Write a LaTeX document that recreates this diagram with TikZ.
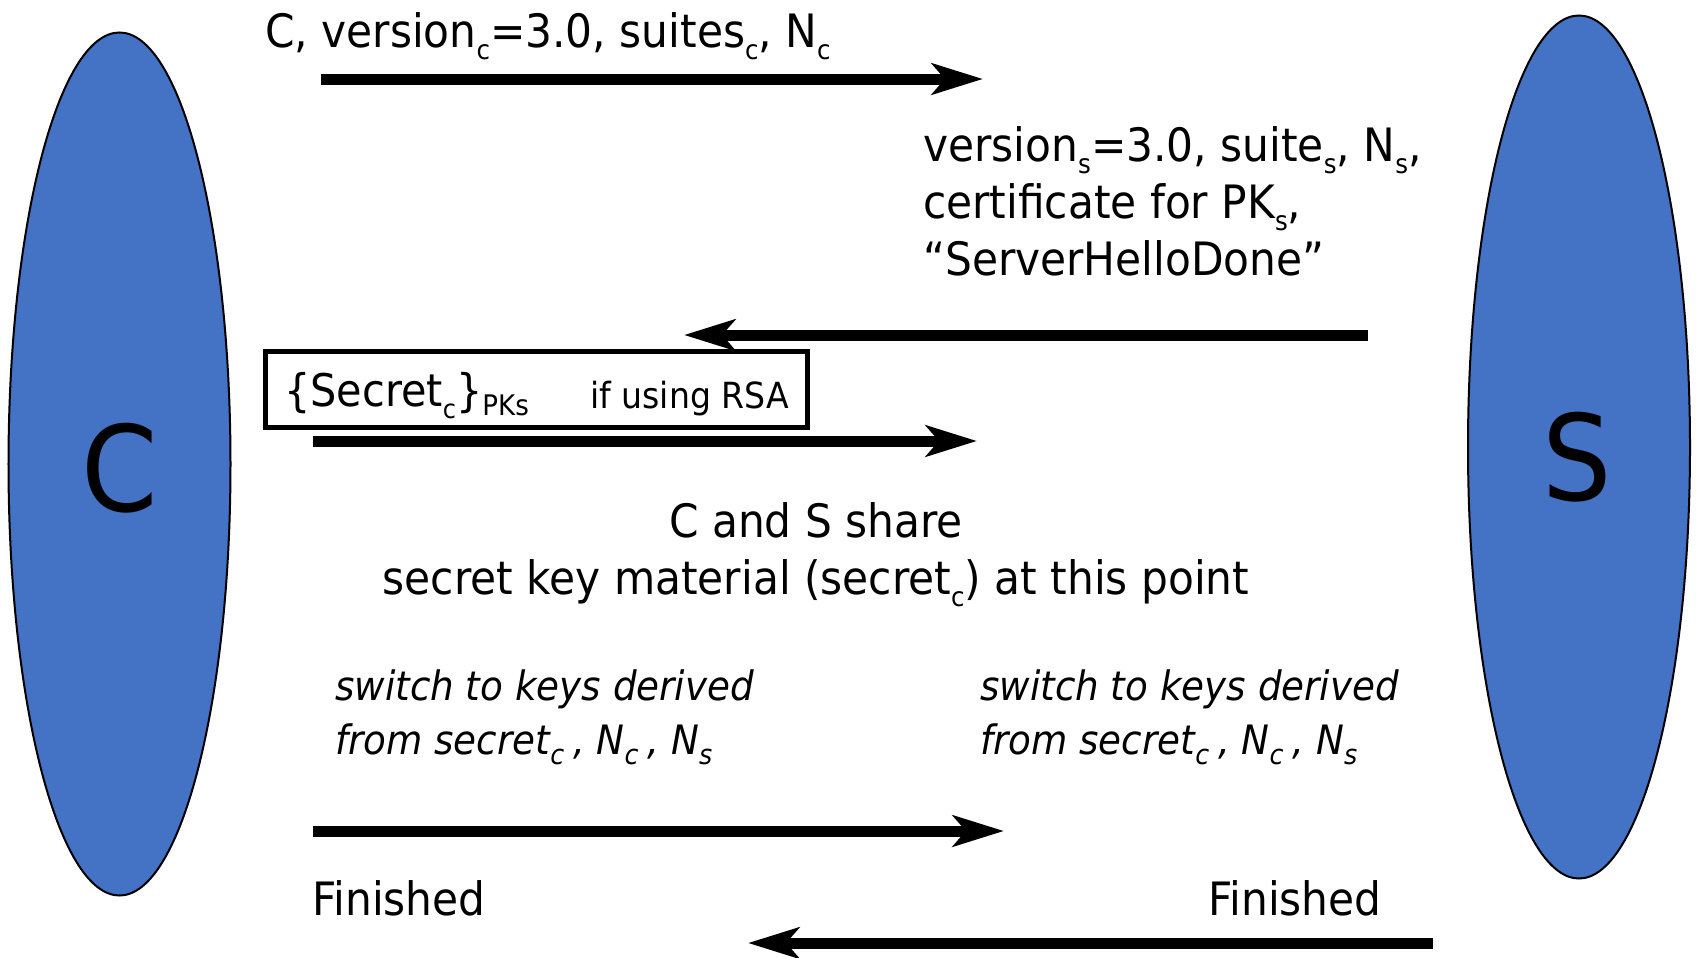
\documentclass[tikz,border=0pt]{standalone}
\usepackage{fontspec}
\usepackage{graphicx}
\setmainfont{DejaVu Sans}[FakeStretch=0.92]
\usetikzlibrary{arrows.meta,shapes.geometric}
\definecolor{partyblue}{HTML}{4472C4}
% lowered, reduced index (subscript) in text
\newcommand\lowidx[1]{\raisebox{-0.28em}{\scalebox{0.58}{#1}}}
% index in the slanted key-switch notes: a bit larger, with room after it
\newcommand\slantidx[1]{\raisebox{-0.26em}{\scalebox{0.68}{#1}}\kern0.22em}

\begin{document}
\begin{tikzpicture}[x=1bp,y=-1bp,
  party/.style={ellipse, draw=black, line width=2bp, fill=partyblue,
    minimum width=222bp, minimum height=863bp, inner sep=0pt},
  bigletter/.style={inner sep=0pt, font=\fontsize{119bp}{119bp}\selectfont},
  msg/.style={line width=11bp, -{Stealth[length=51bp,width=31bp,inset=13bp]}},
  msgtext/.style={anchor=base west, inner sep=0pt, font=\fontsize{46bp}{55bp}\selectfont},
  centertext/.style={anchor=base, inner sep=0pt, font=\fontsize{46bp}{55bp}\selectfont},
  switchtext/.style={anchor=base west, inner sep=0pt, font=\fontsize{40.5bp}{48bp}\selectfont\itshape},
  donetext/.style={anchor=base west, inner sep=0pt, font=\fontsize{46bp}{55bp}\selectfont},
  rsabox/.style={draw=black, line width=5bp, minimum width=542bp, minimum height=76bp, inner sep=0pt}
]
\path[use as bounding box] (0,0) rectangle (1696,957);

% the two parties
\node[party] (C) at (119.5,464) {};
\node[bigletter] (Cname) at (120,468) {C};
\node[party] (S) at (1579,447) {};
\node[bigletter] (Sname) at (1577,457) {S};

% ClientHello
\node[msgtext] (t1) at (265,47) {C, version\lowidx{c}=3.0, suites\lowidx{c}, N\lowidx{c}};
\coordinate (a1s) at (321,79);
\coordinate (a1e) at (983,79);
\draw[msg] (a1s) -- (a1e);

% ServerHello, certificate, ServerHelloDone
\node[msgtext] (t2a) at (923,161) {version\lowidx{s}=3.0, suite\lowidx{s}, N\lowidx{s},};
\node[msgtext] (t2b) at (923,218) {certificate for PK\lowidx{s},};
\node[msgtext] (t2c) at (923,275) {“ServerHelloDone”};
\coordinate (a2s) at (1368,335);
\coordinate (a2e) at (684,335);
\draw[msg] (a2s) -- (a2e);

% ClientKeyExchange
\node[rsabox] (box) at (536,389) {};
\node[anchor=base west, inner sep=0pt, font=\fontsize{45bp}{54bp}\selectfont] (sec) at (284,406)
  {\{Secret\lowidx{c}\}\raisebox{-0.22em}{\scalebox{0.63}{PKs}}};
\node[anchor=base west, inner sep=0pt, font=\fontsize{36bp}{44bp}\selectfont] (rsa) at (590,408) {if using RSA};
\coordinate (a3s) at (313,441);
\coordinate (a3e) at (977,441);
\draw[msg] (a3s) -- (a3e);

% shared secret
\node[centertext] (share1) at (816,537) {C and S share};
\node[centertext] (share2) at (816,594) {secret key material (secret\lowidx{c}) at this point};

% key switch on both sides
\node[switchtext] (swl1) at (335,700) {switch to keys derived};
\node[switchtext] (swl2) at (335,754) {from secret\slantidx{c}, N\slantidx{c}, N\slantidx{s}};
\node[switchtext] (swr1) at (980,700) {switch to keys derived};
\node[switchtext] (swr2) at (980,754) {from secret\slantidx{c}, N\slantidx{c}, N\slantidx{s}};

% Finished messages
\coordinate (a4s) at (313,831);
\coordinate (a4e) at (1004,831);
\draw[msg] (a4s) -- (a4e);
\node[donetext] (fin1) at (312,915) {Finished};
\node[donetext] (fin2) at (1208,915) {Finished};
\coordinate (a5s) at (1433,943);
\coordinate (a5e) at (748,943);
\draw[msg] (a5s) -- (a5e);
\end{tikzpicture}
\end{document}
